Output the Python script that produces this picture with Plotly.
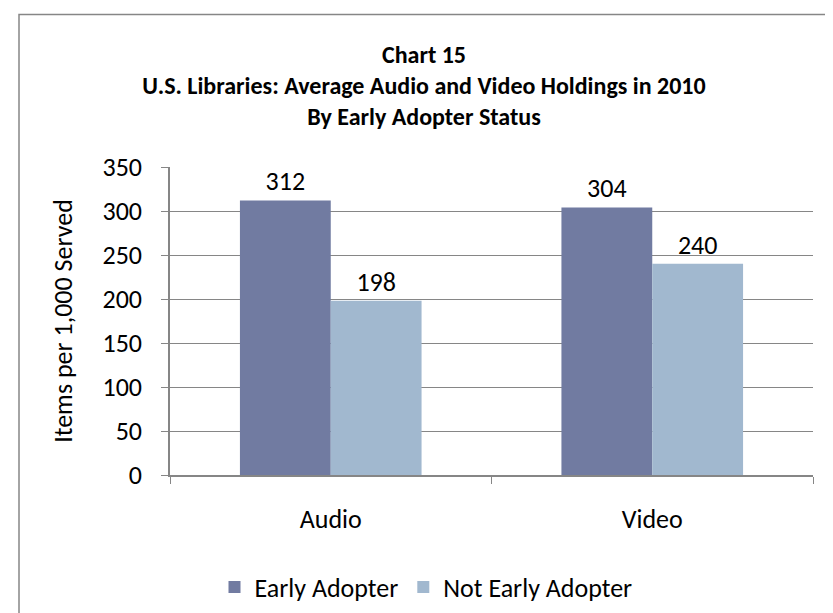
import plotly.graph_objects as go

categories = ["Audio", "Video"]
early_adopter = [312, 304]
not_early_adopter = [198, 240]
series_names = ["Early Adopter", "Not Early Adopter"]
title_lines = ["Chart 15",
               "U.S. Libraries: Average Audio and Video Holdings in 2010",
               "By Early Adopter Status"]
y_title = "Items per 1,000 Served"
y_ticks = [0, 50, 100, 150, 200, 250, 300, 350]

FONT = "Carlito, Calibri, Lato, sans-serif"
GREY = "#868686"
C1 = "#717BA1"
C2 = "#A1B8CF"

fig = go.Figure()
for name, vals, col in [(series_names[0], early_adopter, C1),
                        (series_names[1], not_early_adopter, C2)]:
    fig.add_trace(go.Bar(
        x=categories, y=vals, name=name, marker=dict(color=col, line=dict(width=0)),
        text=[str(v) for v in vals], textposition="outside",
        textfont=dict(family=FONT, size=26, color="#000000"),
        cliponaxis=False,
    ))

W, H = 833, 613
L, R, T, B = 162, 805, 159, 468
fig.update_layout(
    width=W, height=H,
    margin=dict(l=L, r=W - R, t=T, b=H - B, pad=0),
    paper_bgcolor="white", plot_bgcolor="white",
    font=dict(family=FONT, size=26, color="#000000"),
    barmode="group", bargap=0.435, bargroupgap=0,
    title=dict(text="<br>".join("<b>%s</b>" % t for t in title_lines),
               x=(416) / W, xanchor="center", xref="container",
               y=1 - 55 / H, yanchor="top", yref="container",
               font=dict(family=FONT, size=24, color="#000000")),
    showlegend=True,
    legend=dict(orientation="h", x=(418 - L) / (R - L), xanchor="center",
                y=(B - 579) / (B - T), yanchor="middle",
                font=dict(family=FONT, size=26), itemwidth=30,
                traceorder="normal"),
    xaxis=dict(showgrid=False, showline=True, linecolor=GREY, linewidth=1.5,
               ticks="outside", ticklen=7, tickcolor=GREY, tickson="boundaries",
               tickfont=dict(family=FONT, size=26), ticklabelstandoff=20),
    yaxis=dict(range=[0, 350], tickvals=y_ticks, showgrid=True, gridcolor=GREY,
               gridwidth=1, showline=True, linecolor=GREY, linewidth=1.5,
               ticks="outside", ticklen=7, tickcolor=GREY, zeroline=False,
               tickfont=dict(family=FONT, size=26), ticklabelstandoff=14,
               title=dict(text=y_title, font=dict(family=FONT, size=26), standoff=22)),
)

# outer chart border (only top and left edges visible in the frame)
fig.add_shape(type="rect", xref="paper", yref="paper",
              x0=(11 - L) / (R - L), x1=1.1, y0=-0.6, y1=(B - 6) / (B - T),
              line=dict(color=GREY, width=1.5), fillcolor="rgba(0,0,0,0)", layer="below")

fig.write_html("out.html")
